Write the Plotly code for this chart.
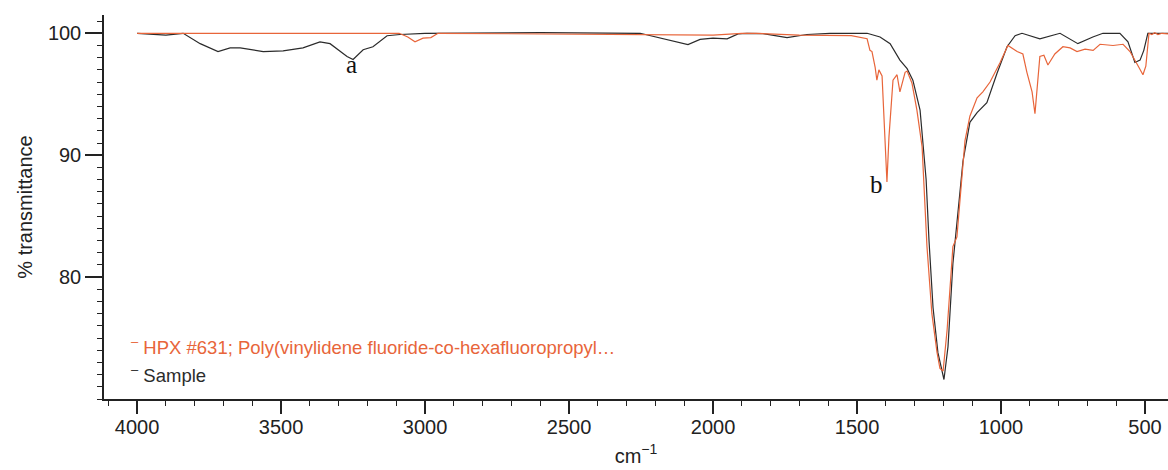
import plotly.graph_objects as go

# ---- data (wavenumber cm^-1, % transmittance) ----
sample_name = "Sample"
sample_wn = [4000, 3950, 3900, 3840, 3781, 3719, 3677, 3642, 3562, 3493, 3424, 3365, 3330, 3271,
             3250, 3215, 3181, 3132, 3087, 3000, 2600, 2253, 2174, 2087, 2045, 2000, 1951, 1913,
             1882, 1826, 1743, 1674, 1594, 1465, 1420, 1385, 1351, 1326, 1306, 1281, 1260, 1250,
             1236, 1219, 1198, 1184, 1167, 1149, 1132, 1108, 1083, 1049, 1014, 979, 951, 927,
             865, 795, 733, 681, 646, 587, 559, 535, 517, 504, 490, 420]
sample_t = [100, 99.9, 99.85, 100, 99.15, 98.5, 98.8, 98.8, 98.5, 98.55, 98.8, 99.3, 99.15, 98.1,
            97.85, 98.65, 98.9, 99.8, 99.9, 100, 100.05, 100, 99.55, 99.07, 99.5, 99.6, 99.55, 99.95,
            100, 99.97, 99.65, 99.9, 100, 100, 99.7, 99.15, 97.8, 97.1, 96.15, 93.7, 88, 83,
            77.5, 73.8, 71.6, 74.3, 81.1, 85.5, 89.5, 92.7, 93.5, 94.3, 96.7, 98.9, 99.8, 100,
            99.55, 100, 99.15, 99.7, 100, 100, 99.3, 97.6, 97.8, 98.6, 100, 100]

ref_name = "HPX #631; Poly(vinylidene fluoride-co-hexafluoropropyl…"
ref_wn = [4000, 3090, 3060, 3035, 3007, 2980, 2955, 2600, 2253, 2000, 1900, 1850, 1700, 1594,
          1520, 1465, 1455, 1448, 1437, 1431, 1424, 1413, 1403, 1396, 1389, 1375, 1361, 1351,
          1333, 1326, 1309, 1292, 1274, 1264, 1257, 1240, 1222, 1212, 1201, 1187, 1167, 1153,
          1142, 1125, 1108, 1083, 1063, 1038, 1003, 976, 944, 924, 910, 892, 882, 875, 865,
          851, 837, 813, 785, 760, 736, 708, 680, 656, 611, 576, 552, 528, 507, 497, 486, 476,
          466, 455, 441, 420]
ref_t = [100, 100, 99.7, 99.3, 99.6, 99.65, 100, 99.95, 99.9, 99.85, 100, 100, 99.85, 99.85,
         99.8, 99.55, 98.6, 98.5, 97.2, 96.15, 97.0, 96.5, 91.8, 87.8, 91.5, 96.15, 96.6, 95.2,
         96.8, 96.9, 95.9, 93.7, 90.7, 86.5, 82.5, 77, 73.8, 72.5, 72.3, 75.7, 82.5, 83.3,
         86.3, 91.2, 93.2, 94.7, 95.2, 96.0, 97.6, 99.0, 98.5, 98.3, 96.8, 95.2, 93.4, 95.5, 98.1,
         98.2, 97.4, 98.3, 98.9, 98.8, 98.5, 98.7, 98.6, 99.1, 99.0, 99.1, 98.5, 97.5, 96.6, 97.3, 100, 99.9,
         100.05, 99.9, 100, 99.95]

label_text = ["a", "b"]
label_wn = [3254, 1434]
label_t = [97.4, 87.6]

x_ticks = [4000, 3500, 3000, 2500, 2000, 1500, 1000, 500]
y_ticks = [100, 90, 80]
y_mid_ticks = [95, 85, 75]

ORANGE = "#E8653A"
DARK = "#2b2b2b"
FONT = "Liberation Sans, Arial, sans-serif"

fig = go.Figure()
fig.add_trace(go.Scatter(x=sample_wn, y=sample_t, mode="lines", name=sample_name,
                         line=dict(color=DARK, width=1.2), yaxis="y"))
fig.add_trace(go.Scatter(x=ref_wn, y=ref_t, mode="lines", name=ref_name,
                         line=dict(color=ORANGE, width=1.2), yaxis="y"))

for t, xw, yt in zip(label_text, label_wn, label_t):
    fig.add_annotation(x=xw, y=yt, text=t, showarrow=False, xref="x", yref="y",
                       font=dict(family="Liberation Serif, Times New Roman, serif", size=25, color="#111"))

# legend as text entries
for i, (nm, col) in enumerate([(ref_name, ORANGE), (sample_name, DARK)]):
    fig.add_annotation(x=(129 - 104) / 1064, y=(399 - (346 + 28 * i)) / 384, xref="paper", yref="paper",
                       xanchor="left", yanchor="middle", showarrow=False,
                       text="<sup>–</sup> " + nm, font=dict(family=FONT, size=18.5, color=col))

fig.update_layout(
    width=1168, height=470,
    margin=dict(l=104, r=0, t=15, b=71),
    paper_bgcolor="white", plot_bgcolor="white",
    showlegend=False,
    font=dict(family=FONT, size=20, color="#222"),
    xaxis=dict(range=[4115, 420], tickvals=x_ticks, ticks="outside", ticklen=13, tickwidth=1.5,
               tickcolor="#222", showline=True, linecolor="#222", linewidth=1.5, showgrid=False,
               zeroline=False, tickfont=dict(size=20), ticklabelstandoff=-4,
               minor=dict(dtick=100, ticks="outside", ticklen=5, tickcolor="#222", tickwidth=1),
               title=dict(text="cm<sup>−1</sup>", font=dict(size=20), standoff=12)),
    yaxis=dict(range=[70, 101.5], tickvals=y_ticks, ticks="outside", ticklen=17, tickwidth=1.5,
               tickcolor="#222", showline=True, linecolor="#222", linewidth=1.5, showgrid=False,
               zeroline=False, tickfont=dict(size=20),
               minor=dict(dtick=1, ticks="outside", ticklen=5, tickcolor="#222", tickwidth=1),
               title=dict(text="% transmittance", font=dict(size=20), standoff=10)),
    yaxis2=dict(range=[70, 101.5], overlaying="y", side="left", tickvals=y_mid_ticks,
                ticks="outside", ticklen=10, tickwidth=1.2, tickcolor="#222",
                showticklabels=False, showgrid=False, zeroline=False, showline=False),
)

fig.write_html("out.html")
